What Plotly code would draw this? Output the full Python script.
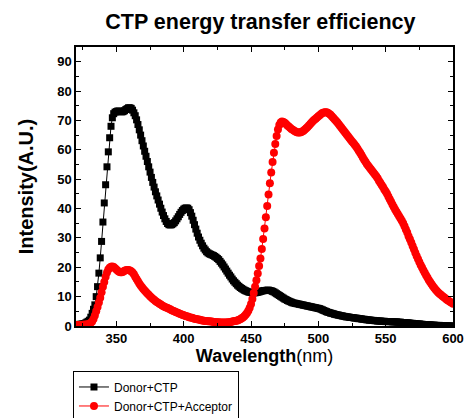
import plotly.graph_objects as go

# Emission spectra, 1 nm steps from 320 to 600 nm
wavelength = list(range(320, 601))

donor_ctp = [
    # 320-329
    0.5, 0.5, 0.5, 0.6, 0.6, 0.7, 0.8, 1.0, 1.3, 1.6,
    # 330-339
    2.0, 3.0, 4.3, 5.7, 7.2, 10.0, 13.4, 18.0, 23.2, 28.8,
    # 340-349
    35.4, 41.9, 48.1, 54.2, 59.3, 64.1, 68.0, 70.9, 72.3, 72.8,
    # 350-359
    73.0, 73.2, 73.2, 73.0, 72.9, 73.0, 73.3, 73.7, 74.0, 74.3,
    # 360-369
    74.3, 74.1, 73.5, 72.6, 71.6, 70.2, 68.6, 66.8, 65.0, 63.1,
    # 370-379
    61.3, 59.5, 57.8, 56.0, 54.2, 52.4, 50.6, 48.9, 47.3, 45.7,
    # 380-389
    44.3, 42.9, 41.5, 40.1, 38.8, 37.6, 36.5, 35.6, 34.9, 34.5,
    # 390-399
    34.4, 34.5, 34.8, 35.2, 35.8, 36.5, 37.2, 38.0, 38.7, 39.3,
    # 400-409
    39.8, 40.1, 40.2, 40.1, 39.6, 38.6, 37.4, 36.0, 34.5, 33.0,
    # 410-419
    31.6, 30.3, 29.2, 28.2, 27.3, 26.5, 25.9, 25.3, 24.9, 24.6,
    # 420-429
    24.4, 24.2, 24.0, 23.7, 23.4, 23.0, 22.6, 22.0, 21.4, 20.8,
    # 430-439
    20.1, 19.4, 18.7, 18.0, 17.3, 16.7, 16.0, 15.4, 14.9, 14.4,
    # 440-449
    13.9, 13.5, 13.1, 12.8, 12.5, 12.2, 12.0, 11.8, 11.6, 11.5,
    # 450-459
    11.4, 11.3, 11.3, 11.3, 11.4, 11.5, 11.6, 11.8, 11.9, 12.0,
    # 460-469
    12.1, 12.1, 12.2, 12.2, 12.1, 12.0, 11.8, 11.6, 11.3, 11.0,
    # 470-479
    10.7, 10.4, 10.1, 9.8, 9.5, 9.2, 9.0, 8.7, 8.5, 8.3,
    # 480-489
    8.1, 7.9, 7.8, 7.7, 7.6, 7.5, 7.4, 7.3, 7.2, 7.1,
    # 490-499
    7.0, 6.9, 6.8, 6.7, 6.6, 6.5, 6.4, 6.3, 6.2, 6.1,
    # 500-509
    6.0, 5.9, 5.7, 5.5, 5.3, 5.1, 4.9, 4.7, 4.6, 4.4,
    # 510-519
    4.3, 4.2, 4.0, 3.9, 3.8, 3.7, 3.6, 3.5, 3.4, 3.3,
    # 520-529
    3.2, 3.1, 3.1, 3.0, 2.9, 2.9, 2.8, 2.7, 2.7, 2.6,
    # 530-539
    2.5, 2.5, 2.4, 2.3, 2.3, 2.2, 2.1, 2.1, 2.0, 2.0,
    # 540-549
    1.9, 1.9, 1.8, 1.8, 1.7, 1.7, 1.7, 1.6, 1.6, 1.6,
    # 550-559
    1.5, 1.5, 1.5, 1.5, 1.5, 1.4, 1.4, 1.4, 1.4, 1.3,
    # 560-569
    1.3, 1.3, 1.2, 1.2, 1.2, 1.1, 1.1, 1.0, 1.0, 0.9,
    # 570-579
    0.9, 0.8, 0.8, 0.7, 0.7, 0.7, 0.6, 0.6, 0.5, 0.5,
    # 580-589
    0.5, 0.4, 0.4, 0.4, 0.3, 0.3, 0.3, 0.2, 0.2, 0.2,
    # 590-600
    0.2, 0.1, 0.1, 0.1, 0.1, 0.1, 0.0, 0.0, 0.0, 0.0, 0.0,
]

donor_ctp_acceptor = [
    # 320-329
    0.3, 0.3, 0.3, 0.3, 0.3, 0.4, 0.4, 0.5, 0.5, 0.6,
    # 330-339
    0.8, 1.1, 1.5, 2.4, 3.6, 5.0, 6.5, 8.0, 9.6, 11.5,
    # 340-349
    13.4, 15.0, 16.8, 18.2, 19.2, 19.8, 20.2, 20.3, 20.1, 19.7,
    # 350-359
    19.2, 18.8, 18.5, 18.3, 18.3, 18.5, 18.8, 19.0, 19.1, 19.1,
    # 360-369
    18.9, 18.6, 18.2, 17.6, 16.8, 16.0, 15.2, 14.5, 13.8, 13.2,
    # 370-379
    12.6, 12.1, 11.6, 11.1, 10.6, 10.1, 9.7, 9.3, 8.9, 8.5,
    # 380-389
    8.2, 7.9, 7.6, 7.3, 7.0, 6.7, 6.5, 6.3, 6.1, 5.9,
    # 390-399
    5.7, 5.4, 5.2, 5.0, 4.8, 4.6, 4.4, 4.2, 4.0, 3.8,
    # 400-409
    3.7, 3.5, 3.3, 3.2, 3.0, 2.9, 2.8, 2.6, 2.5, 2.4,
    # 410-419
    2.3, 2.2, 2.1, 2.0, 1.9, 1.8, 1.7, 1.7, 1.6, 1.6,
    # 420-429
    1.5, 1.5, 1.4, 1.4, 1.3, 1.3, 1.3, 1.2, 1.2, 1.2,
    # 430-439
    1.2, 1.2, 1.2, 1.3, 1.3, 1.4, 1.5, 1.6, 1.7, 1.8,
    # 440-449
    1.9, 2.1, 2.3, 2.6, 2.9, 3.3, 3.8, 4.4, 5.2, 6.2,
    # 450-459
    7.5, 9.2, 11.2, 13.4, 15.6, 17.9, 20.4, 23.0, 26.2, 29.6,
    # 460-469
    33.2, 37.0, 40.9, 44.8, 48.6, 52.3, 55.8, 59.0, 62.0, 64.7,
    # 470-479
    66.9, 68.4, 69.3, 69.6, 69.5, 69.2, 68.8, 68.3, 67.9, 67.5,
    # 480-489
    67.1, 66.8, 66.5, 66.2, 66.0, 65.9, 65.9, 66.0, 66.2, 66.5,
    # 490-499
    66.9, 67.3, 67.8, 68.3, 68.8, 69.3, 69.8, 70.2, 70.6, 71.0,
    # 500-509
    71.4, 71.8, 72.2, 72.5, 72.7, 72.8, 72.8, 72.6, 72.3, 71.9,
    # 510-519
    71.4, 70.9, 70.4, 69.9, 69.4, 68.8, 68.2, 67.6, 67.0, 66.4,
    # 520-529
    65.8, 65.2, 64.6, 64.0, 63.4, 62.8, 62.3, 61.7, 61.1, 60.4,
    # 530-539
    59.7, 59.0, 58.2, 57.4, 56.6, 55.9, 55.2, 54.6, 54.0, 53.4,
    # 540-549
    52.8, 52.2, 51.6, 51.0, 50.3, 49.5, 48.8, 48.0, 47.3, 46.5,
    # 550-559
    45.8, 45.0, 44.1, 43.2, 42.3, 41.4, 40.5, 39.7, 38.9, 38.1,
    # 560-569
    37.4, 36.6, 35.8, 35.0, 34.0, 32.9, 31.8, 30.6, 29.5, 28.4,
    # 570-579
    27.2, 26.1, 24.9, 23.8, 22.8, 21.8, 20.8, 19.9, 19.0, 18.1,
    # 580-589
    17.3, 16.5, 15.7, 15.0, 14.3, 13.6, 13.0, 12.4, 11.9, 11.4,
    # 590-600
    11.0, 10.6, 10.2, 9.9, 9.5, 9.1, 8.8, 8.5, 8.2, 7.9, 7.6,
]

x_ticks = [350, 400, 450, 500, 550, 600]
y_ticks = [0, 10, 20, 30, 40, 50, 60, 70, 80, 90]

FONT = "Liberation Sans, Arial, sans-serif"

fig = go.Figure()
fig.add_trace(go.Scatter(
    x=wavelength, y=donor_ctp, name="Donor+CTP",
    mode="lines+markers",
    line=dict(color="black", width=1),
    marker=dict(symbol="square", size=7, color="black"),
))
fig.add_trace(go.Scatter(
    x=wavelength, y=donor_ctp_acceptor, name="Donor+CTP+Acceptor",
    mode="lines+markers",
    line=dict(color="red", width=1),
    marker=dict(symbol="circle", size=8, color="red"),
))

axis_common = dict(
    showline=True, linecolor="black", linewidth=1.5, mirror="allticks",
    ticks="inside", ticklen=5, tickwidth=1, tickcolor="black",
    showgrid=False, zeroline=False,
    tickfont=dict(family=FONT, size=13, color="black", weight="bold"),
)

fig.update_xaxes(
    range=[320, 600], tickvals=x_ticks,
    minor=dict(ticks="inside", ticklen=3, dtick=25, tick0=325, tickcolor="black"),
    title=dict(text="<b>Wavelength</b>(nm)", font=dict(family=FONT, size=18, color="black"),
               standoff=0),
    **axis_common,
)
fig.update_yaxes(
    range=[0, 95], tickvals=y_ticks,
    minor=dict(ticks="inside", ticklen=3, dtick=5, tick0=5, tickcolor="black"),
    title=dict(text="<b>Intensity(A.U.)</b>", font=dict(family=FONT, size=20, color="black"),
               standoff=18),
    **axis_common,
)

fig.update_layout(
    width=465, height=418,
    margin=dict(l=76, r=12, t=47, b=92, autoexpand=False),
    paper_bgcolor="white", plot_bgcolor="white",
    title=dict(text="<b>CTP energy transfer efficiency</b>",
               font=dict(family=FONT, size=21.5, color="black"),
               x=0.56, xanchor="center", y=0.948, yanchor="middle"),
    showlegend=True,
    legend=dict(
        x=-0.008, y=-0.163, xanchor="left", yanchor="top",
        bordercolor="black", borderwidth=1, bgcolor="white",
        font=dict(family=FONT, size=12, color="black"),
        tracegroupgap=0, itemwidth=30,
    ),
)

fig.write_html("out.html")
